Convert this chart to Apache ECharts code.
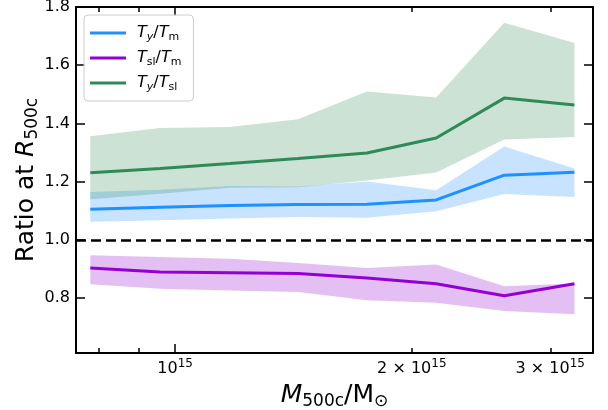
<!DOCTYPE html>
<html>
<head>
<meta charset="utf-8">
<script src="https://cdn.jsdelivr.net/npm/echarts@6/dist/echarts.min.js"></script>
<style>
html, body { margin: 0; padding: 0; background: #fff; }
#chart { width: 608px; height: 410px; }
</style>
</head>
<body>
<div id="chart"></div>
<script>
// halo mass bins (M_500c in solar masses)
var mass = [7.80e14, 9.57e14, 1.174e15, 1.433e15, 1.754e15, 2.148e15, 2.622e15, 3.22e15];

// T_y / T_m
var tyTm   = [1.105, 1.112, 1.118, 1.121, 1.122, 1.137, 1.222, 1.232];
var tyTmLo = [1.062, 1.067, 1.073, 1.078, 1.076, 1.098, 1.157, 1.147];
var tyTmHi = [1.164, 1.172, 1.185, 1.183, 1.200, 1.170, 1.321, 1.245];

// T_sl / T_m
var tslTm   = [0.903, 0.889, 0.887, 0.884, 0.869, 0.849, 0.808, 0.849];
var tslTmLo = [0.847, 0.832, 0.826, 0.821, 0.792, 0.784, 0.755, 0.744];
var tslTmHi = [0.947, 0.941, 0.935, 0.920, 0.903, 0.915, 0.840, 0.850];

// T_y / T_sl
var tyTsl   = [1.230, 1.245, 1.262, 1.279, 1.298, 1.350, 1.487, 1.463];
var tyTslLo = [1.139, 1.158, 1.179, 1.181, 1.204, 1.231, 1.345, 1.353];
var tyTslHi = [1.356, 1.384, 1.388, 1.414, 1.510, 1.489, 1.746, 1.676];

// axis ticks
var xMajorTicks = [1e15];
var xLabelTicks = [1e15, 2e15, 3e15];
var xMinorTicks = [8e14, 9e14, 2e15, 3e15];
var yTicks = [0.8, 1.0, 1.2, 1.4, 1.6, 1.8];
var xRange = [7.48e14, 3.40e15];
var yRange = [0.611, 1.8];

var FONT = 'DejaVu Sans';
var lg = function (v) { return Math.log10(v); };
var xs = mass.map(lg);

function pairs(ys) {
  return xs.map(function (x, i) { return [x, ys[i]]; });
}

// fill_between: one polygon through hi points then lo points back
function band(lo, hi, fill) {
  return {
    type: 'custom', silent: true, z: 1, clip: true,
    data: xs.map(function (x, i) { return [x, lo[i], hi[i]]; }),
    encode: { x: 0, y: [1, 2] },
    renderItem: function (params, api) {
      if (params.dataIndex !== 0) return;
      var pts = [];
      for (var i = 0; i < xs.length; i++) pts.push(api.coord([xs[i], hi[i]]));
      for (var j = xs.length - 1; j >= 0; j--) pts.push(api.coord([xs[j], lo[j]]));
      return { type: 'polygon', shape: { points: pts }, style: { fill: fill } };
    }
  };
}

function line(name, ys, color) {
  return {
    name: name, type: 'line', data: pairs(ys), symbol: 'none', color: color,
    lineStyle: { color: color, width: 3 }, z: 3
  };
}

var legendLabels = {
  'Ty/Tm': '{i|T}{si|y}{n|/}{i|T}{s|m}',
  'Tsl/Tm': '{i|T}{s|sl}{n|/}{i|T}{s|m}',
  'Ty/Tsl': '{i|T}{si|y}{n|/}{i|T}{s|sl}'
};

var richText = {
  n: { fontFamily: FONT, fontSize: 16, lineHeight: 20, color: '#000' },
  i: { fontFamily: FONT, fontSize: 16, lineHeight: 20, fontStyle: 'italic', color: '#000' },
  s: { fontFamily: FONT, fontSize: 11, lineHeight: 12, verticalAlign: 'bottom', color: '#000' },
  si: { fontFamily: FONT, fontSize: 11, lineHeight: 12, verticalAlign: 'bottom', fontStyle: 'italic', color: '#000' }
};

var tickLabelRich = {
  n: { fontFamily: FONT, fontSize: 16, lineHeight: 22, color: '#000' },
  sup: { fontFamily: FONT, fontSize: 12, lineHeight: 12, verticalAlign: 'top', color: '#000' }
};

var titleRich = {
  n: { fontFamily: FONT, fontSize: 25, lineHeight: 30, color: '#000' },
  i: { fontFamily: FONT, fontSize: 25, lineHeight: 30, fontStyle: 'italic', color: '#000' },
  s: { fontFamily: FONT, fontSize: 17, lineHeight: 17, verticalAlign: 'bottom', color: '#000' }
};

function xAxisDef(pos, ticks, len, withLabels, withLine) {
  var ax = {
    type: 'value', position: pos, min: lg(xRange[0]), max: lg(xRange[1]),
    axisLine: { show: withLine, onZero: false, lineStyle: { color: '#000', width: 2 } },
    axisTick: { show: true, inside: true, length: len, customValues: ticks.map(lg),
                lineStyle: { color: '#000', width: 1.5 } },
    splitLine: { show: false },
    axisLabel: { show: false }
  };
  if (withLabels) {
    ax.axisLabel = {
      show: true, margin: 5, customValues: xLabelTicks.map(lg), rich: tickLabelRich,
      formatter: function (v) {
        var m = Math.round(Math.pow(10, v - 15));
        return m === 1 ? '{n|10}{sup|15}' : '{n|' + m + ' \u00d7 10}{sup|15}';
      }
    };
    ax.name = '{i|M}{s|500c}{n|/M}{s|\u2299}';
    ax.nameLocation = 'middle';
    ax.nameGap = 27;
    ax.nameTextStyle = { rich: titleRich };
  }
  return ax;
}

function yAxisDef(pos, withLabels) {
  var ax = {
    type: 'value', position: pos, min: yRange[0], max: yRange[1],
    axisLine: { show: true, onZero: false, lineStyle: { color: '#000', width: 2 } },
    axisTick: { show: true, inside: true, length: 9, customValues: yTicks,
                lineStyle: { color: '#000', width: 1.5 } },
    splitLine: { show: false },
    axisLabel: { show: false }
  };
  if (withLabels) {
    ax.axisLabel = {
      show: true, margin: 6, customValues: yTicks, fontFamily: FONT, fontSize: 16, color: '#000',
      formatter: function (v) { return v.toFixed(1); }
    };
    ax.name = '{n|Ratio at }{i|R}{s|500c}';
    ax.nameLocation = 'middle';
    ax.nameRotate = 90;
    ax.nameGap = 35;
    ax.nameMoveOverlap = false;
    ax.nameTextStyle = { rich: titleRich };
  }
  return ax;
}

var series = [
  band(tyTmLo, tyTmHi, 'rgba(30,144,255,0.25)'),
  band(tslTmLo, tslTmHi, 'rgba(148,0,211,0.25)'),
  band(tyTslLo, tyTslHi, 'rgba(46,139,87,0.25)')
];

var blue = line('Ty/Tm', tyTm, '#1e90ff');
blue.markLine = {
  silent: true, symbol: ['none', 'none'], label: { show: false },
  lineStyle: { color: '#000', type: [10, 5], width: 2.5 },
  data: [{ yAxis: 1.0 }]
};
series.push(blue, line('Tsl/Tm', tslTm, '#9400d3'), line('Ty/Tsl', tyTsl, '#2e8b57'));

var chart = echarts.init(document.getElementById('chart'), null, { renderer: 'canvas' });
chart.setOption({
  animation: false,
  backgroundColor: '#fff',
  grid: { left: 76, right: 15, top: 7, bottom: 57, containLabel: false, outerBoundsMode: 'none' },
  legend: {
    data: ['Ty/Tm', 'Tsl/Tm', 'Ty/Tsl'],
    orient: 'vertical', left: 84, top: 15,
    padding: [10, 12, 8, 6], itemGap: 7,
    itemWidth: 36, itemHeight: 3, icon: 'rect',
    borderColor: '#cccccc', borderWidth: 1, borderRadius: 4,
    backgroundColor: 'rgba(255,255,255,0.8)',
    formatter: function (name) { return legendLabels[name]; },
    textStyle: { rich: richText, padding: [0, 0, 0, 6] }
  },
  xAxis: [
    xAxisDef('bottom', xMajorTicks, 9, true, true),
    xAxisDef('bottom', xMinorTicks, 5, false, false),
    xAxisDef('top', xMajorTicks, 9, false, true),
    xAxisDef('top', xMinorTicks, 5, false, false)
  ],
  yAxis: [yAxisDef('left', true), yAxisDef('right', false)],
  series: series
});
</script>
</body>
</html>
